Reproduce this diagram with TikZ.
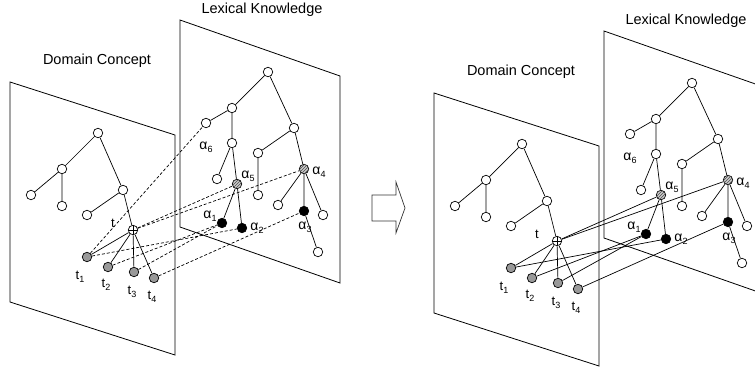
\documentclass[tikz,border=0pt]{standalone}
\usepackage{fontspec}
\setmainfont{Liberation Sans}
\usetikzlibrary{patterns}
\newcommand\lsub[1]{\raisebox{-0.45ex}{\fontsize{9}{10}\selectfont #1}}
\tikzset{
  vtx/.style={circle,draw,line width=0.7pt,minimum size=9.5pt,inner sep=0pt,fill=white},
  termv/.style={vtx,fill=black!40},
  blackv/.style={vtx,fill=black},
  hatchv/.style={vtx,fill=black!20,postaction={pattern=north east lines,pattern color=black!70}},
  plusv/.style={vtx,path picture={\draw[line width=0.7pt] (path picture bounding box.north) -- (path picture bounding box.south) (path picture bounding box.west) -- (path picture bounding box.east);}},
  edge/.style={line width=0.7pt},
  plane/.style={line width=0.8pt},
  title/.style={font=\fontsize{14.5}{16}\selectfont,inner sep=0pt},
  lbl/.style={font=\fontsize{13}{15}\selectfont,inner sep=0pt},
  albl/.style={font=\fontsize{14}{15}\selectfont,inner sep=0pt},
  dlink/.style={line width=0.7pt,dash pattern=on 3pt off 2pt},
  slink/.style={line width=0.7pt},
}
\newcommand\drawscene{%
  % planes
  \draw[plane] (180,20) -- (340,76) -- (340,283) -- (180,227) -- cycle;
  \draw[plane] (10,82) -- (175,135) -- (175,355) -- (10,302) -- cycle;
  \node[title] (lk) at (262,10) {Lexical Knowledge};
  \node[title] (dc) at (97,61) {Domain Concept};
  % domain tree
  \node[vtx] (d0) at (98,133) {};
  \node[vtx] (d1) at (62,169) {};
  \node[vtx] (d2) at (123,190) {};
  \node[vtx] (d3) at (31,195) {};
  \node[vtx] (d4) at (62,206) {};
  \node[vtx] (d5) at (87,215) {};
  \node[plusv] (t) at (133,230) {};
  \node[termv] (t1) at (87,257) {};
  \node[termv] (t2) at (108,267) {};
  \node[termv] (t3) at (134,272) {};
  \node[termv] (t4) at (154,278) {};
  \draw[edge] (d0) -- (d1) (d0) -- (d2) (d1) -- (d3) (d1) -- (d4) (d2) -- (d5) (d2) -- (t)
    (t) -- (t1) (t) -- (t2) (t) -- (t3) (t) -- (t4);
  \node[lbl] (lt) at (113,223) {t};
  \node[lbl] (lt1) at (80,277) {t\lsub{1}};
  \node[lbl] (lt2) at (106,285) {t\lsub{2}};
  \node[lbl] (lt3) at (132,292) {t\lsub{3}};
  \node[lbl] (lt4) at (152,297) {t\lsub{4}};
  % lexical tree
  \node[vtx] (x0) at (268,72) {};
  \node[vtx] (x1) at (232,108) {};
  \node[vtx] (a6) at (206,123) {};
  \node[vtx] (x2) at (232,143) {};
  \node[vtx] (x3) at (217,179) {};
  \node[hatchv] (a5) at (237,184) {};
  \node[blackv] (a1) at (222,223) {};
  \node[blackv] (a2) at (242,228) {};
  \node[vtx] (x4) at (294,128) {};
  \node[vtx] (x5) at (258,153) {};
  \node[vtx] (x6) at (258,195) {};
  \node[hatchv] (a4) at (304,169) {};
  \node[vtx] (x7) at (278,205) {};
  \node[blackv] (a3) at (304,211) {};
  \node[vtx] (x8) at (323,215) {};
  \node[vtx] (x9) at (318,252) {};
  \draw[edge] (x0) -- (x1) (x0) -- (x4) (x1) -- (a6) (x1) -- (x2) (x2) -- (x3) (x2) -- (a5)
    (a5) -- (a1) (a5) -- (a2) (x4) -- (x5) (x4) -- (a4) (x5) -- (x6)
    (a4) -- (x7) (a4) -- (a3) (a4) -- (x8) (a3) -- (x9);
  \node[albl] (la6) at (206,147) {α\lsub{6}};
  \node[albl] (la5) at (248,176) {α\lsub{5}};
  \node[albl] (la4) at (319,172) {α\lsub{4}};
  \node[albl] (la1) at (210,216) {α\lsub{1}};
  \node[albl] (la2) at (257,228) {α\lsub{2}};
  \node[albl] (la3) at (305,227) {α\lsub{3}};
}
\begin{document}
\begin{tikzpicture}[x=1pt,y=-1pt]
\useasboundingbox (0,0) rectangle (755,370);
\clip (0,0) rectangle (755,370);
\begin{scope}
  \drawscene
  \draw[dlink] (t1) -- (a6);
  \draw[dlink] (t) -- (a5);
  \draw[dlink] (t) -- (a4);
  \draw[dlink] (t1) -- (a2);
  \draw[dlink] (t2) -- (a1);
  \draw[dlink] (t3) -- (a1);
  \draw[dlink] (t4) -- (a3);
\end{scope}
\draw[line width=0.7pt,black!80] (372,195) -- (396,195) -- (396,182) -- (405,208) -- (396,233) -- (396,221) -- (372,221) -- cycle;
\begin{scope}[shift={(424,11)},name prefix=r-]
  \drawscene
  \draw[slink] (t) -- (a5);
  \draw[slink] (t) -- (a4);
  \draw[slink] (t1) -- (a2);
  \draw[slink] (t2) -- (a1);
  \draw[slink] (t3) -- (a1);
  \draw[slink] (t4) -- (a3);
\end{scope}
\end{tikzpicture}
\end{document}
